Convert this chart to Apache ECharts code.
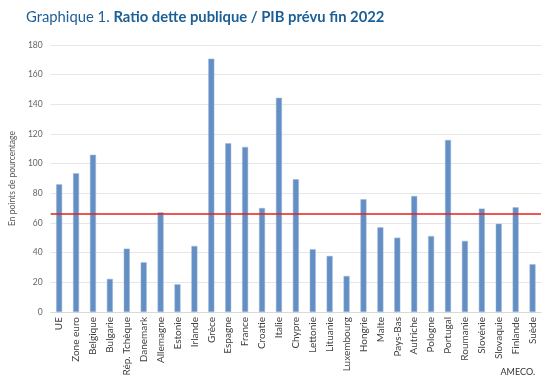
<!DOCTYPE html>
<html>
<head>
<meta charset="utf-8">
<script src="https://cdn.jsdelivr.net/npm/echarts@6/dist/echarts.min.js"></script>
<style>html,body{margin:0;padding:0;background:#fff}#c{width:550px;height:387px}</style>
</head>
<body>
<div id="c"></div>
<script>
const categories = ["UE","Zone euro","Belgique","Bulgarie","Rép. Tchèque","Danemark","Allemagne","Estonie","Irlande","Grèce","Espagne","France","Croatie","Italie","Chypre","Lettonie","Lituanie","Luxembourg","Hongrie","Malte","Pays-Bas","Autriche","Pologne","Portugal","Roumanie","Slovénie","Slovaquie","Finlande","Suède"];
const debtRatio = [86.1,93.5,106,22.3,42.7,33.5,67.2,18.7,44.5,170.8,113.7,111.3,70.1,144.4,89.5,42.3,37.8,24.3,76,57.1,50.1,78.2,51.2,116,47.9,69.7,59.5,70.6,32.2];
const thresholdValue = 66;
const yTicks = [0,20,40,60,80,100,120,140,160,180];
const titleLead = "Graphique 1. ";
const titleMain = "Ratio dette publique / PIB prévu fin 2022";
const yAxisName = "En points de pourcentage";
const sourceText = "AMECO.";

const chart = echarts.init(document.getElementById('c'));
chart.setOption({
  animation: false,
  backgroundColor: '#fff',
  textStyle: { fontFamily: 'Lato, "Open Sans", sans-serif' },
  title: [{
    text: '{a|' + titleLead + '}{b|' + titleMain + '}',
    left: 21, top: 5,
    textStyle: {
      rich: {
        a: { fontFamily: 'Lato, sans-serif', fontSize: 14.8, color: '#1b5f96', fontWeight: 'normal' },
        b: { fontFamily: 'Lato, sans-serif', fontSize: 14.8, color: '#1b5f96', fontWeight: 'bold' }
      }
    }
  }, {
    text: sourceText,
    right: 10, bottom: 5,
    textStyle: { fontFamily: 'Lato, sans-serif', fontSize: 9, color: '#333', fontWeight: 'normal' }
  }],
  grid: { left: 46, right: 9, top: 45, bottom: 75 },
  xAxis: {
    type: 'category',
    data: categories,
    axisTick: { show: false },
    axisLine: { lineStyle: { color: '#d9d9d9' } },
    axisLabel: { rotate: 90, interval: 0, fontSize: 10, color: '#404040', margin: 5, fontFamily: 'Lato, sans-serif' }
  },
  yAxis: {
    type: 'value',
    min: yTicks[0], max: yTicks[yTicks.length - 1], interval: 20,
    name: yAxisName,
    nameLocation: 'middle',
    nameGap: 31,
    nameRotate: 90,
    nameTextStyle: { fontSize: 8.5, color: '#595959', fontFamily: 'Lato, sans-serif' },
    axisLine: { show: false },
    axisTick: { show: false },
    axisLabel: { fontSize: 8.5, color: '#666', margin: 8, fontFamily: 'Lato, sans-serif' },
    splitLine: { lineStyle: { color: '#e6e6e6', width: 1 } }
  },
  series: [{
    type: 'bar',
    data: debtRatio,
    barWidth: 6,
    itemStyle: { color: '#638fc4', borderColor: '#9db8da', borderWidth: 0.5 },
    markLine: {
      silent: true,
      symbol: ['none', 'none'],
      label: { show: false },
      lineStyle: { color: '#e41e1e', width: 1.5, type: 'solid' },
      data: [{ yAxis: thresholdValue }]
    }
  }]
});
</script>
</body>
</html>
